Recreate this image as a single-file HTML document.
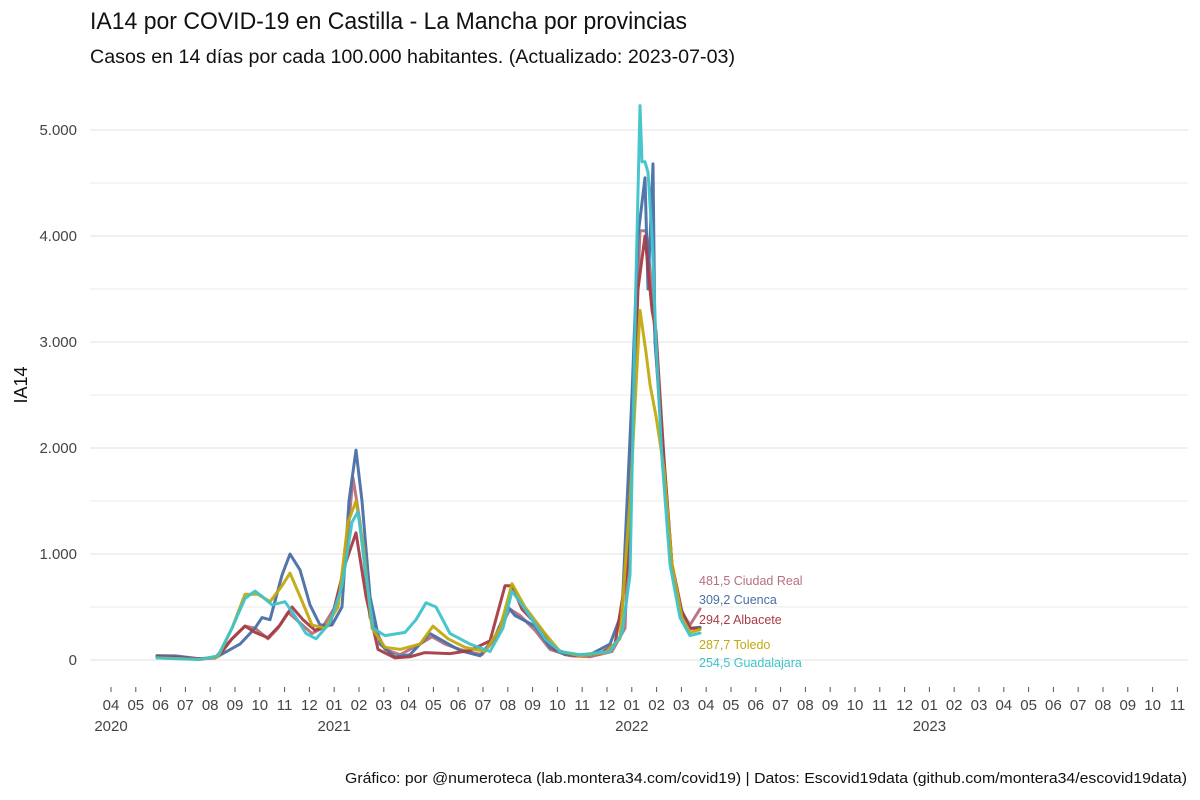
<!DOCTYPE html>
<html><head><meta charset="utf-8"><style>
html,body{margin:0;padding:0;background:#fff;}
svg{display:block;font-family:"Liberation Sans Narrow","Liberation Sans",sans-serif;}
</style></head><body>
<svg id="s" width="1200" height="800" viewBox="0 0 1200 800" xmlns="http://www.w3.org/2000/svg">
<rect width="1200" height="800" fill="#fff"/>
<text x="90" y="29" font-size="24" fill="#111" textLength="597" lengthAdjust="spacingAndGlyphs">IA14 por COVID-19 en Castilla - La Mancha por provincias</text>
<text x="90" y="63" font-size="19" fill="#111" textLength="645" lengthAdjust="spacingAndGlyphs">Casos en 14 días por cada 100.000 habitantes.  (Actualizado: 2023-07-03)</text>
<g id="grid"></g>
<text transform="translate(27,385) rotate(-90)" text-anchor="middle" font-size="18" fill="#111">IA14</text>
<g id="series" fill="none" stroke-linejoin="round" stroke-linecap="round"></g>
<g id="labels" font-size="12.5"></g>
<text x="1187" y="783" text-anchor="end" font-size="15" fill="#111" textLength="842" lengthAdjust="spacingAndGlyphs">Gráfico: por @numeroteca (lab.montera34.com/covid19) | Datos: Escovid19data (github.com/montera34/escovid19data)</text>
</svg>
<script>
var NS="http://www.w3.org/2000/svg";
function el(t,a,p,txt){var e=document.createElementNS(NS,t);for(var k in a)e.setAttribute(k,a[k]);if(txt!=null)e.textContent=txt;p.appendChild(e);return e;}
var g=document.getElementById('grid');
function Y(v){return 660-v*0.106;}
for(var v=0;v<=5000;v+=500){el('line',{x1:90,x2:1188,y1:Y(v),y2:Y(v),stroke:'#ebebeb','stroke-width':v%1000==0?1.6:1},g);}
var yl=['0','1.000','2.000','3.000','4.000','5.000'];
for(var i=0;i<6;i++)el('text',{x:77,y:Y(i*1000)+5,'text-anchor':'end','font-size':15,fill:'#444'},g,yl[i]);
var months=['04','05','06','07','08','09','10','11','12','01','02','03'];
for(var m=0;m<=43;m++){var x=111+m*24.8;el('line',{x1:x,x2:x,y1:687,y2:692,stroke:'#555','stroke-width':1},g);
el('text',{x:x,y:710,'text-anchor':'middle','font-size':15,fill:'#444'},g,months[m%12]);}
var yrs=[[0,'2020'],[9,'2021'],[21,'2022'],[33,'2023']];
yrs.forEach(function(a){el('text',{x:111+a[0]*24.8,y:731,'text-anchor':'middle','font-size':15,fill:'#444'},g,a[1]);});
var S=document.getElementById('series');
var data={
cr:['#b5707f',[[157,40],[175,40],[200,10],[215,20],[232,200],[245,320],[255,300],[268,200],[278,300],[288,450],[300,350],[312,250],[322,300],[335,500],[345,900],[353,1720],[360,1300],[370,400],[385,100],[400,50],[420,150],[432,220],[445,150],[460,100],[482,50],[495,200],[510,480],[520,420],[535,280],[550,100],[570,40],[590,30],[612,80],[625,300],[632,2000],[640,4050],[646,4050],[652,3500],[662,2000],[672,900],[682,450],[690,330],[700,481]]],
cu:['#4a6fa5',[[157,40],[180,30],[200,10],[215,20],[240,150],[255,300],[262,400],[270,380],[282,800],[290,1000],[300,850],[310,520],[320,330],[332,330],[342,500],[349,1500],[356,1980],[362,1500],[370,600],[380,150],[395,30],[410,50],[430,250],[445,170],[460,90],[480,40],[495,220],[508,500],[515,420],[535,320],[550,120],[565,50],[590,50],[610,150],[622,450],[632,2500],[638,4000],[645,4550],[648,3500],[653,4680],[655,3000],[663,2000],[672,900],[680,500],[690,300],[700,309]]],
ab:['#a83c44',[[157,30],[200,10],[218,30],[232,200],[245,320],[255,260],[268,210],[280,330],[292,500],[303,380],[315,280],[330,330],[345,900],[356,1200],[366,600],[378,100],[395,20],[410,30],[425,70],[450,60],[470,90],[490,180],[505,700],[512,700],[522,480],[540,300],[555,100],[575,40],[600,60],[615,150],[628,900],[638,3500],[645,4000],[652,3300],[656,3100],[664,1900],[672,900],[682,450],[690,300],[700,294]]],
to:['#c2a90f',[[157,20],[200,5],[218,30],[232,300],[245,620],[258,620],[270,550],[282,700],[290,820],[300,600],[312,330],[325,300],[338,500],[348,1300],[356,1500],[363,1100],[372,300],[385,120],[400,100],[420,150],[433,320],[448,200],[465,120],[485,80],[500,300],[512,720],[525,500],[545,250],[560,80],[580,40],[605,70],[620,200],[630,1500],[640,3300],[646,2900],[650,2600],[656,2300],[664,1800],[672,900],[682,400],[690,260],[700,288]]],
gu:['#3ec3ca',[[157,20],[200,5],[218,40],[232,300],[245,580],[255,650],[262,600],[272,520],[285,550],[296,400],[306,250],[316,200],[330,350],[342,700],[352,1300],[358,1400],[366,800],[373,300],[385,230],[405,260],[416,380],[426,540],[436,500],[450,250],[470,150],[490,80],[503,300],[512,650],[525,480],[545,200],[560,80],[580,50],[610,80],[622,250],[630,800],[636,3600],[640,5230],[642,4700],[645,4700],[648,4600],[652,4000],[656,3000],[662,1900],[670,900],[680,400],[690,230],[700,254]]]
};
['cr','cu','ab','to','gu'].forEach(function(k){var c=data[k][0],p=data[k][1];
var d=p.map(function(q,i){return (i?'L':'M')+q[0]+','+Y(q[1]).toFixed(1);}).join('');
el('path',{d:d,stroke:c,'stroke-width':3,opacity:0.95},S);});
var L=document.getElementById('labels');
var lab=[['481,5','Ciudad Real','#b5707f',585],['309,2','Cuenca','#4a6fa5',604],['294,2','Albacete','#a83c44',624],['287,7','Toledo','#c2a90f',649],['254,5','Guadalajara','#3ec3ca',667]];
lab.forEach(function(a){el('text',{x:699,y:a[3],fill:a[2]},L,a[0]+'  '+a[1]);});
</script>
</body></html>
